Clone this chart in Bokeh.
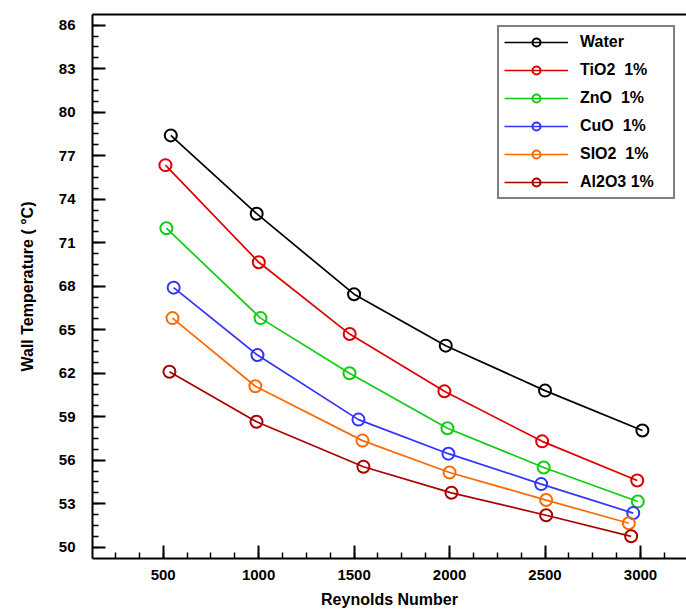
from bokeh.plotting import figure
from bokeh.models import FixedTicker, SingleIntervalTicker, Legend, LegendItem, LinearAxis
from bokeh.embed import file_html
from bokeh.resources import INLINE
import numpy as np

# ---- data ----
series_names = ["Water", "TiO2  1%", "ZnO  1%", "CuO  1%", "SIO2  1%", "Al2O3 1%"]

water_re = [540, 990, 1500, 1980, 2500, 3010]
water_t = [78.4, 73.0, 67.45, 63.9, 60.8, 58.05]

tio2_re = [512, 1001, 1477, 1973, 2485, 2983]
tio2_t = [76.35, 69.65, 64.7, 60.75, 57.3, 54.6]

zno_re = [517, 1010, 1476, 1989, 2493, 2986]
zno_t = [72.0, 65.8, 62.0, 58.2, 55.5, 53.15]

cuo_re = [555, 994, 1523, 1994, 2480, 2962]
cuo_t = [67.9, 63.25, 58.8, 56.45, 54.35, 52.35]

sio2_re = [549, 983, 1544, 2000, 2506, 2939]
sio2_t = [65.8, 61.1, 57.35, 55.15, 53.25, 51.65]

al2o3_re = [533, 989, 1549, 2010, 2506, 2951]
al2o3_t = [62.1, 58.65, 55.55, 53.75, 52.2, 50.75]

y_ticks = [50, 53, 56, 59, 62, 65, 68, 71, 74, 77, 80, 83, 86]

colors = ["#000000", "#dd0000", "#11cc11", "#3333ff", "#ff6a00", "#aa0000"]

all_re = [water_re, tio2_re, zno_re, cuo_re, sio2_re, al2o3_re]
all_t = [water_t, tio2_t, zno_t, cuo_t, sio2_t, al2o3_t]

FONT = "Liberation Sans"

p = figure(width=686, height=611, output_backend="svg", toolbar_location=None,
           x_range=(130, 3241), y_range=(49.22, 86.74),
           min_border_left=92, min_border_right=0, min_border_top=14, min_border_bottom=53)
p.xgrid.visible = False
p.ygrid.visible = False
p.outline_line_color = None
p.background_fill_color = "white"
p.border_fill_color = "white"

items = []
for name, xs, ys, c in zip(series_names, all_re, all_t, colors):
    r1 = p.line(xs, ys, line_color=c, line_width=1.7)
    r2 = p.scatter(xs, ys, marker="circle", size=12, line_color=c, line_width=2, fill_color=None)
    items.append(LegendItem(label=name, renderers=[r1, r2]))

legend = Legend(items=items, location="top_right", margin=11,
                border_line_color="black", border_line_width=2,
                padding=5, spacing=8, glyph_width=64, glyph_height=20,
                label_height=20, label_width=88, label_standoff=12,
                label_text_font=FONT, label_text_font_style="bold",
                label_text_font_size="16px", label_text_color="black",
                background_fill_alpha=1)
p.add_layout(legend)

# x axis
xa = p.xaxis[0]
xa.ticker = SingleIntervalTicker(interval=500, num_minor_ticks=4)
xa.axis_label = "Reynolds Number"
# y axis
ya = p.yaxis[0]
ya.ticker = FixedTicker(ticks=y_ticks, minor_ticks=list(np.arange(y_ticks[0], y_ticks[-1] + 0.01, 0.75)))
ya.axis_label = "Wall Temperature ( \u00b0C)"

for ax in (xa, ya):
    ax.axis_line_width = 2
    ax.axis_line_color = "black"
    ax.major_tick_in = 13
    ax.major_tick_out = 0
    ax.minor_tick_in = 6
    ax.minor_tick_out = 0
    ax.major_tick_line_width = 2
    ax.minor_tick_line_width = 1.5
    ax.major_label_text_font = FONT
    ax.major_label_text_font_style = "bold"
    ax.major_label_text_font_size = "15px"
    ax.major_label_text_color = "black"
    ax.axis_label_text_font = FONT
    ax.axis_label_text_font_style = "bold"
    ax.axis_label_text_font_size = "16px"
    ax.axis_label_text_color = "black"

xa.major_label_standoff = 11
xa.axis_label_standoff = 8
ya.major_label_standoff = 17
ya.axis_label_standoff = 20

top = LinearAxis(ticker=FixedTicker(ticks=[]), axis_line_width=2, axis_line_color="black",
                 major_tick_in=0, major_tick_out=0, minor_tick_in=0, minor_tick_out=0,
                 major_label_text_font_size="0px")
p.add_layout(top, "above")

open("out.html", "w").write(file_html(p, INLINE))
